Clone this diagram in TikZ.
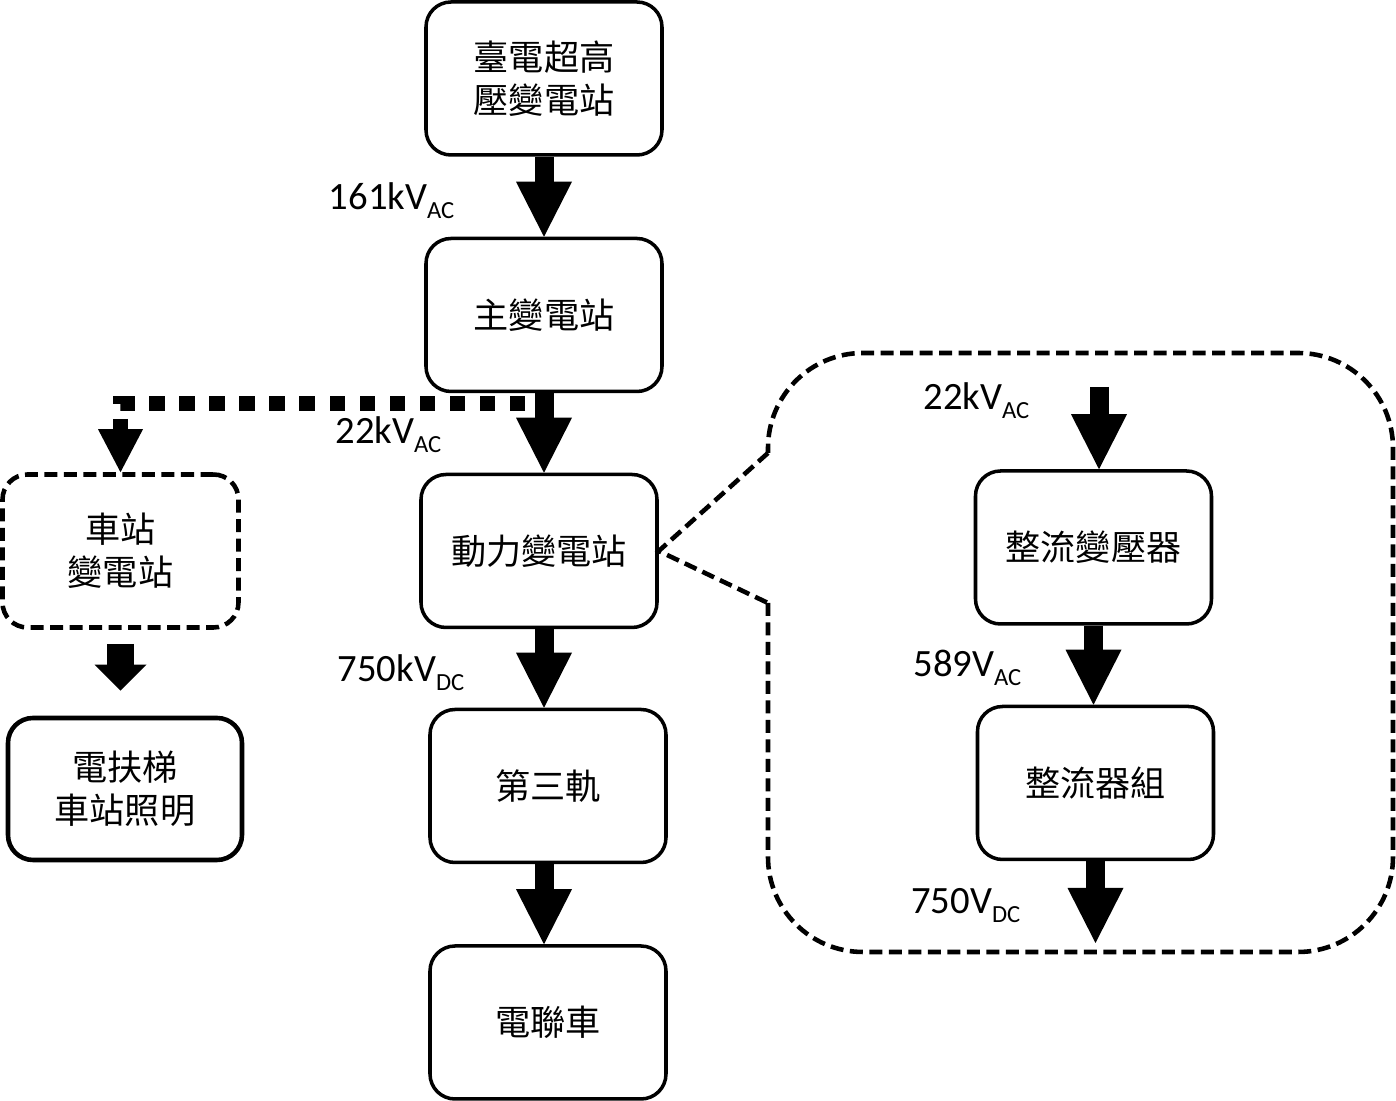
\documentclass[tikz,border=0pt]{standalone}
\usepackage{fontspec}
\setmainfont{Carlito}
\newfontfamily\cjk{Noto Sans CJK TC}
\usetikzlibrary{arrows.meta}
\newcommand{\vsub}[1]{\raisebox{-2.3pt}{\fontsize{7pt}{8pt}\selectfont #1}}

\tikzset{
  box/.style={draw, line width=1pt, rounded corners=0.25cm, minimum width=2.36cm, minimum height=1.53cm,
    inner sep=0pt, align=center, font=\cjk\fontsize{10pt}{12.2pt}\selectfont},
  dashbox/.style={box, line width=1.3pt, dash pattern=on 0.13cm off 0.065cm},
  power/.style={line width=0.19cm, -{Triangle[width=0.56cm,length=0.55cm,line width=0pt]}},
  feed/.style={line width=0.27cm, -{Triangle[width=0.52cm,length=0.26cm,line width=0pt]}},
  branch/.style={line width=0.15cm, dash pattern=on 0.155cm off 0.145cm, -{Triangle[width=0.45cm,length=0.43cm,line width=0pt]}},
  callout/.style={line width=1.3pt, dash pattern=on 0.13cm off 0.065cm},
  volt/.style={inner sep=0pt, font=\fontsize{11pt}{13pt}\selectfont}
}

\begin{document}
\begin{tikzpicture}
\useasboundingbox (0,0) rectangle (13.96,-11.01);

% main supply chain
\node[box] (ehv) at (5.44,-0.785) {臺電超高\\壓變電站};
\node[box] (main) at (5.44,-3.15) {主變電站};
\node[box] (traction) at (5.39,-5.51) {動力變電站};
\node[box] (rail) at (5.48,-7.86) {第三軌};
\node[box] (emu) at (5.48,-10.225) {電聯車};

\draw[power] (ehv.south) -- (ehv.south |- main.north);
\draw[power] (main.south) -- (main.south |- traction.north);
\draw[power] (traction.south -| ehv) -- (rail.north -| ehv);
\draw[power] (rail.south -| ehv) -- (emu.north -| ehv);

\node[volt, anchor=base east] (v161) at (4.55,-2.10) {161kV\vsub{AC}};
\node[volt, anchor=base east] (v22a) at (4.42,-4.44) {22kV\vsub{AC}};
\node[volt, anchor=base east] (v750k) at (4.65,-6.82) {750kV\vsub{DC}};

% station branch
\node[dashbox] (station) at (1.205,-5.51) {車站\\變電站};
\node[box, line width=1.3pt, minimum width=2.34cm, minimum height=1.42cm] (lighting) at (1.25,-7.89) {電扶梯\\車站照明};

\coordinate (tap) at (5.25,-4.035);
\draw[branch] (tap) -| (station.north);
\draw[feed, shorten <=0.14cm, shorten >=0.25cm] (station.south) -- (station.south |- lighting.north);

% rectifier detail
\coordinate (notchup) at (7.68,-4.53);
\coordinate (notchdown) at (7.68,-6.03);
\draw[callout] (notchup) -- (traction.east) -- (notchdown);
\draw[callout, rounded corners=0.95cm] (notchdown) -- (7.68,-9.52) -- (13.93,-9.52) -- (13.93,-3.53) -- (7.68,-3.53) -- (notchup);

\node[box] (rectx) at (10.935,-5.475) {整流變壓器};
\node[box] (rectset) at (10.955,-7.83) {整流器組};

\coordinate (feedin) at (10.99,-3.87);
\coordinate (feedout) at (10.96,-9.43);
\draw[power] (feedin) -- (feedin |- rectx.north);
\draw[power] (rectx.south) -- (rectx.south |- rectset.north);
\draw[power] (rectset.south) -- (rectset.south |- feedout);

\node[volt, anchor=base east] (v22b) at (10.30,-4.10) {22kV\vsub{AC}};
\node[volt, anchor=base east] (v589) at (10.22,-6.77) {589V\vsub{AC}};
\node[volt, anchor=base east] (v750) at (10.21,-9.14) {750V\vsub{DC}};
\end{tikzpicture}
\end{document}
